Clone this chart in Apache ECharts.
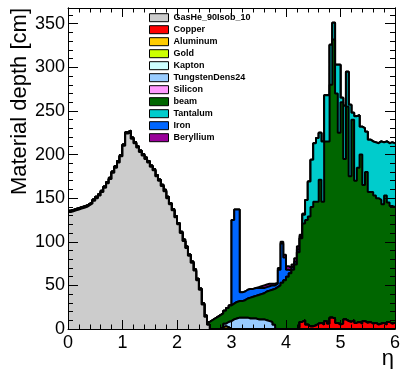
<!DOCTYPE html>
<html><head><meta charset="utf-8">
<script src="https://cdn.jsdelivr.net/npm/echarts@6/dist/echarts.min.js"></script>
<style>html,body{margin:0;padding:0;background:#fff}#c{width:402px;height:369px}</style>
</head><body><div id="c"></div>
<script>
// Binning: 120 bins of width 0.05 in eta, from 0 to 6
const etaMin = 0, etaMax = 6, nBins = 120;
const etaEdges = Array.from({length: nBins + 1}, (_, i) => +(etaMin + i * (etaMax - etaMin) / nBins).toFixed(3));

const materialNames = ['GasHe_90Isob_10','Copper','Aluminum','Gold','Kapton','TungstenDens24','Silicon','beam','Tantalum','Iron','Beryllium'];
const materialColors = ['#cccccc','#ff0000','#ffcc00','#ccff00','#ccffff','#99ccff','#ff99ff','#006600','#00cccc','#0066ff','#990099'];

const xTicks = [0,1,2,3,4,5,6];
const yTicks = [0,50,100,150,200,250,300,350];

const gasHe = [
134,135,136,137,138,139,140,142,144,147,150,153,157,162,167,172,179,185,191,198,
210,224,226,218,213,208,203,199,195,191,186,182,175,170,164,158,150,143,136,128,
120,110,101,93,84,76,67,56,45,28,14,5,0,0,0,0,0,0,0,0,
0,0,0,0,0,0,0,0,0,0,0,0,0,0,0,0,0,0,0,0,
0,0,0,0,0,0,0,0,0,0,0,0,0,0,0,0,0,0,0,0,
0,0,0,0,0,0,0,0,0,0,0,0,0,0,0,0,0,0,0,0];
const copper = [
0,0,0,0,0,0,0,0,0,0,0,0,0,0,0,0,0,0,0,0,
0,0,0,0,0,0,0,0,0,0,0,0,0,0,0,0,0,0,0,0,
0,0,0,0,0,0,0,0,0,0,0,0,0,0,0,0,0,0,0,0,
0,0,0,0,0,0,0,0,0,0,0,0,0,0,0,0,0,0,0,0,
0,0,0,0,2,8,10,5,3,3,4,6,7,5,9,6,13,12,7,5,
6,11,9,8,10,7,8,6,9,7,8,6,7,5,6,7,5,8,6,7];
const aluminum = [
0,0,0,0,0,0,0,0,0,0,0,0,0,0,0,0,0,0,0,0,
0,0,0,0,0,0,0,0,0,0,0,0,0,0,0,0,0,0,0,0,
0,0,0,0,0,0,0,0,0,0,0,0,0,0,0,0,2,3,2,0,
0,0,0,0,0,0,0,0,0,0,0,0,0,0,0,0,0,0,0,0,
0,0,0,0,0,0,0,0,0,0,0,0,0,0,0,0,0,0,0,0,
0,0,0,0,0,0,0,0,0,0,0,0,0,0,0,0,0,0,0,0];
const gold = [
0,0,0,0,0,0,0,0,0,0,0,0,0,0,0,0,0,0,0,0,
0,0,0,0,0,0,0,0,0,0,0,0,0,0,0,0,0,0,0,0,
0,0,0,0,0,0,0,0,0,0,0,0,0,0,0,0,0,0,0,0,
0,0,0,0,0,0,0,0,0,0,0,0,0,0,0,0,0,0,0,0,
0,0,0,0,0,0,0,0,0,0,0,0,0,0,0,0,0,0,0,0,
0,0,0,0,0,0,0,0,0,0,0,0,0,0,0,0,0,0,0,0];
const kapton = [
0,0,0,0,0,0,0,0,0,0,0,0,0,0,0,0,0,0,0,0,
0,0,0,0,0,0,0,0,0,0,0,0,0,0,0,0,0,0,0,0,
0,0,0,0,0,0,0,0,0,0,0,0,0,0,0,0,0,0,0,0,
0,0,0,0,0,0,0,0,0,0,0,0,0,0,0,0,0,0,0,0,
0,0,0,0,0,0,0,0,0,0,0,0,0,0,0,0,0,0,0,0,
0,0,0,0,0,0,0,0,0,0,0,0,0,0,0,0,0,0,0,0];
const tungsten = [
0,0,0,0,0,0,0,0,0,0,0,0,0,0,0,0,0,0,0,0,
0,0,0,0,0,0,0,0,0,0,0,0,0,0,0,0,0,0,0,0,
0,0,0,0,0,0,0,0,0,0,0,0,0,0,0,0,0,3,6,9,
11,12,13,13,13,13,12,12,12,11,11,11,10,9,8,5,0,0,0,0,
0,0,0,0,0,0,0,0,0,0,0,0,0,0,0,0,0,0,0,0,
0,0,0,0,0,0,0,0,0,0,0,0,0,0,0,0,0,0,0,0];
const silicon = [
0,0,0,0,0,0,0,0,0,0,0,0,0,0,0,0,0,0,0,0,
0,0,0,0,0,0,0,0,0,0,0,0,0,0,0,0,0,0,0,0,
0,0,0,0,0,0,0,0,0,0,0,0,0,0,0,0,0,0,0,0,
0,0,0,0,0,0,0,0,0,0,0,0,0,0,0,0,0,0,0,0,
0,0,0,0,0,0,0,0,0,0,0,0,0,0,0,0,0,0,0,0,
0,0,0,0,0,0,0,0,0,0,0,0,0,0,0,0,0,0,0,0];
const beam = [
1.5,1.5,1.5,1.5,1.5,1.5,1.5,1.5,1.5,1.5,1.5,1.5,1.5,1.5,1.5,1.5,1.5,1.5,1.5,1.5,
1.5,1.5,1.5,1.5,1.5,1.5,1.5,1.5,1.5,1.5,1.5,1.5,1.5,1.5,1.5,1.5,1.5,1.5,1.5,1.5,
1.5,1.5,1.5,1.5,1.5,1.5,1.5,1.5,1.5,1.5,1.5,3,10,12,14,16,16,15,16,18,
18,19,19,19,20,22,24,25,26,28,29,30,33,35,37,41,48,50,53,56,
60,64,68,74,86,96,111,120,126,137,142,140,164,141,206,209,267,320,263,220,
254,184,246,167,230,163,177,194,156,173,149,151,146,145,142,136,148,137,135,133];
const tantalum = [
0,0,0,0,0,0,0,0,0,0,0,0,0,0,0,0,0,0,0,0,
0,0,0,0,0,0,0,0,0,0,0,0,0,0,0,0,0,0,0,0,
0,0,0,0,0,0,0,0,0,0,0,0,0,0,0,0,0,0,0,0,
0,0,0,0,0,0,0,0,0,0,0,0,0,0,0,0,0,0,0,0,
0,0,0,0,0,0,10,23,40,54,67,73,54,69,53,53,46,19,33,78,
5,61,40,82,8,74,60,32,65,46,60,58,61,63,67,71,62,68,73,73];
const iron = [
0,0,0,0,0,0,0,0,0,0,0,0,0,0,0,0,0,0,0,0,
0,0,0,0,0,0,0,0,0,0,0,0,0,0,0,0,0,0,0,0,
0,0,0,0,0,0,0,0,0,0,0,0,0,0,0,0,0,0,0,0,
96,106,105,10,10,10,10,9,9,8,7,6,5,5,5,4,4,18,45,26,
8,3,3,3,3,2,1,0,0,0,0,0,0,0,0,0,0,0,0,0,
0,0,0,0,0,0,0,0,0,0,0,0,0,0,0,0,0,0,0,0];
const beryllium = [
0,0,0,0,0,0,0,0,0,0,0,0,0,0,0,0,0,0,0,0,
0,0,0,0,0,0,0,0,0,0,0,0,0,0,0,0,0,0,0,0,
0,0,0,0,0,0,0,0,0,0,0,0,0,0,0,0,0,0,0,0,
0,0,0,0,0,0,0,0,0,1,2,3,3,3,2,2,1,2,2,3,
4,3,3,4,4,2,0,0,0,0,0,0,0,0,0,0,0,0,0,0,
0,0,0,0,0,0,0,0,0,0,0,0,0,0,0,0,0,0,0,0];

const materialValues = [gasHe, copper, aluminum, gold, kapton, tungsten, silicon, beam, tantalum, iron, beryllium];

// THStack-style: each layer drawn as the cumulative sum of itself and all layers below it
const cumulative = [];
materialValues.forEach((vals, k) => {
  cumulative.push(vals.map((v, i) => v + (k > 0 ? cumulative[k - 1][i] : 0)));
});

const FONT = 'Liberation Sans, Arial, Helvetica, sans-serif';
const chart = echarts.init(document.getElementById('c'), null, {renderer: 'canvas'});

const series = materialNames.map((name, k) => ({
  name: name,
  type: 'line',
  step: 'end',
  symbol: 'none',
  showSymbol: false,
  z: 30 - k,
  lineStyle: {color: '#000', width: 2},
  itemStyle: {color: materialColors[k]},
  areaStyle: {color: materialColors[k], opacity: 1, origin: 'start'},
  emphasis: {disabled: true},
  data: etaEdges.map((x, i) => [x, cumulative[k][Math.min(i, nBins - 1)]])
}));

const yMax = 368;
function yAx(pos, interval, len, labels, extra) {
  return Object.assign({
    type: 'value', min: 0, max: yMax, interval: interval, position: pos, z: 50,
    axisLine: {show: true, lineStyle: {color: '#000', width: 1}},
    axisTick: {show: true, inside: true, length: len, lineStyle: {color: '#000', width: 1}},
    splitLine: {show: false},
    axisLabel: labels ? {show: true, color: '#000', fontSize: 18, fontFamily: FONT, margin: 3, showMaxLabel: false,
      formatter: v => (yTicks.indexOf(v) >= 0 ? String(v) : '')} : {show: false}
  }, extra || {});
}
function xAx(pos, labels, extra) {
  return Object.assign({
    type: 'value', min: etaMin, max: etaMax, interval: 1, position: pos, z: 50,
    axisLine: {show: true, onZero: false, lineStyle: {color: '#000', width: 1}},
    axisTick: {show: true, inside: true, length: 9, lineStyle: {color: '#000', width: 1}},
    minorTick: {show: true, splitNumber: 5, length: 4.5, lineStyle: {color: '#000', width: 1}},
    splitLine: {show: false}, minorSplitLine: {show: false},
    axisLabel: labels ? {show: true, color: '#000', fontSize: 18, fontFamily: FONT, margin: 5,
      formatter: v => (xTicks.indexOf(v) >= 0 ? String(v) : '')} : {show: false}
  }, extra || {});
}

chart.setOption({
  animation: false,
  backgroundColor: '#fff',
  grid: {left: 68, right: 7, top: 8, bottom: 40, containLabel: false, outerBoundsMode: 'none'},
  xAxis: [
    xAx('bottom', true, {name: 'η', nameLocation: 'end', nameGap: 0, nameMoveOverlap: false,
      nameTextStyle: {fontSize: 22, fontFamily: FONT, color: '#000', align: 'right', verticalAlign: 'top', padding: [19, 1, 0, 0]}}),
    xAx('top', false)
  ],
  yAxis: [
    yAx('left', 50, 10, true, {name: 'Material depth [cm]', nameLocation: 'end', nameGap: 0, nameRotate: 90, nameMoveOverlap: false,
      nameTextStyle: {fontSize: 22, fontFamily: FONT, color: '#000', align: 'right', verticalAlign: 'bottom', padding: [0, 0, 37, 0]}}),
    yAx('left', 10, 5, false),
    yAx('right', 50, 10, false),
    yAx('right', 10, 5, false)
  ],
  legend: {
    orient: 'vertical', left: 149, top: 11.7, padding: 0, itemWidth: 19, itemHeight: 8, itemGap: 0,
    icon: 'rect', selectedMode: false,
    textStyle: {fontFamily: FONT, fontWeight: 'bold', fontSize: 9, lineHeight: 12, color: '#000'},
    data: materialNames.map((n, k) => ({name: n, itemStyle: {color: materialColors[k], borderColor: '#000', borderWidth: 1}}))
  },
  series: series
});
</script></body></html>
